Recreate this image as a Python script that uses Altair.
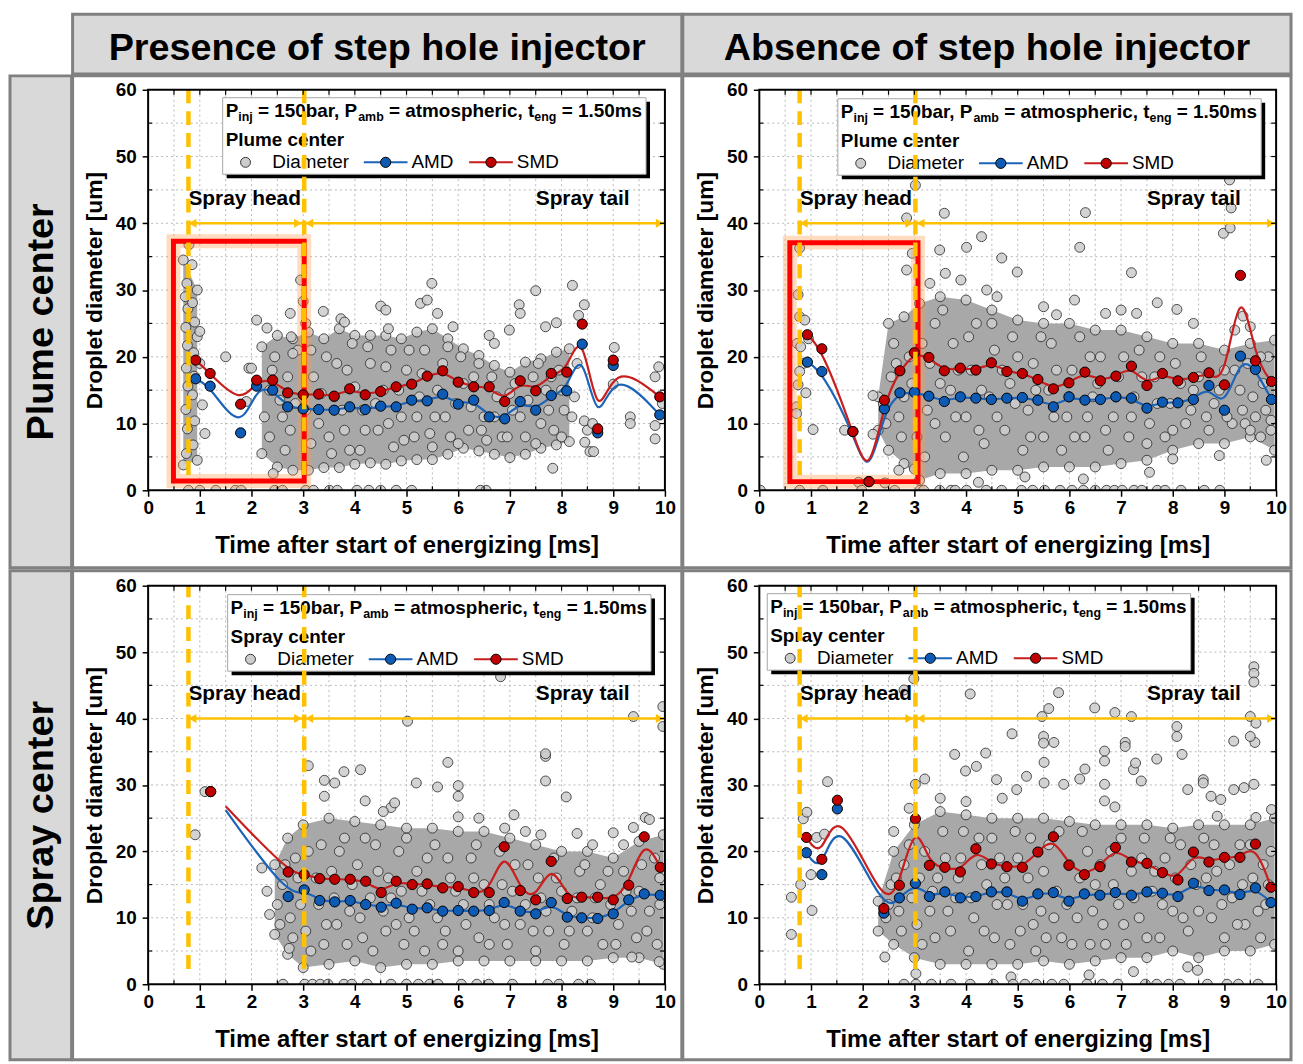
import altair as alt
import pandas as pd

# ---------------- data ----------------
x_ticks = [0, 1, 2, 3, 4, 5, 6, 7, 8, 9, 10]
y_ticks = [0, 10, 20, 30, 40, 50, 60]
x_grid = [0.5, 1, 1.5, 2, 2.5, 3, 3.5, 4, 4.5, 5, 5.5, 6, 6.5, 7, 7.5, 8, 8.5, 9, 9.5]
y_grid = [5, 10, 15, 20, 25, 30, 35, 40, 45, 50, 55]
x_half = [0.5, 1.5, 2.5, 3.5, 4.5, 5.5, 6.5, 7.5, 8.5, 9.5]
y_half = [5, 15, 25, 35, 45, 55]

phase_x = [0.78, 3.02]          # orange dashed boundaries
phase_y0 = [2.3, 2.3]
phase_y1 = [60, 60]
arrow_x0 = [0.78, 3.04]
arrow_x1 = [2.98, 9.98]
arrow_y = [40, 40]
head_left_x = [0.86, 3.12]
head_right_x = [2.90, 9.90]
phase_labels = ["Spray head", "Spray tail"]
phase_label_x = [0.78, 7.5]
phase_label_y = [42.8, 42.8]

headers = ["Presence of step hole injector", "Absence of step hole injector"]
rows = ["Plume center", "Spray center"]

# ---- Panel 1: presence / plume center ----
p1_col_x = [0.68, 0.95]
p1_col_lo = [3.8, 4.5]
p1_col_hi = [34.5, 30.0]
p1_band_x = [2.2, 2.5, 2.8, 3.1, 3.4, 3.7, 4.0, 4.3, 4.6, 4.9, 5.2, 5.5, 5.8, 6.1, 6.4, 6.7, 7.0, 7.3, 7.6, 7.9, 8.15]
p1_band_lo = [5.5, 3.5, 3.0, 3.0, 3.4, 3.4, 3.9, 4.1, 3.9, 4.4, 4.6, 4.6, 5.4, 6.3, 5.9, 5.4, 4.9, 5.4, 6.3, 6.8, 7.3]
p1_band_hi = [21.5, 23.2, 22.7, 23.7, 22.7, 24.2, 23.2, 23.2, 23.2, 22.7, 23.7, 24.2, 22.7, 21.2, 20.2, 18.7, 17.7, 19.2, 19.7, 20.7, 21.2]
p1_out = [(0.79, 36.8), (0.85, 33.8), (0.72, 29.0), (0.95, 23.0), (1.0, 23.8), (1.0, 19.0), (1.05, 12.8),
          (1.1, 8.5), (1.5, 20.0), (1.9, 13.3), (1.95, 18.3), (2.0, 18.3), (2.1, 25.5), (2.3, 24.3),
          (2.42, 2.5), (2.75, 26.5), (2.77, 23.0), (2.95, 31.5), (3.0, 28.3), (3.05, 25.0), (3.39, 26.8),
          (3.73, 25.7), (3.8, 25.2), (4.5, 27.6), (4.6, 27.0), (4.65, 24.2), (5.27, 28.0), (5.4, 28.5),
          (5.49, 31.0), (5.6, 26.5), (5.9, 24.5), (6.6, 23.2), (6.7, 22.0), (6.99, 24.0), (7.18, 27.8),
          (7.2, 26.5), (7.5, 29.9), (7.69, 24.5), (7.9, 25.1), (8.21, 30.7), (8.33, 26.2), (8.44, 27.8),
          (7.83, 3.3), (8.44, 10.4), (8.5, 9.0), (8.45, 7.2), (8.55, 5.8), (8.62, 5.8), (8.6, 10.0),
          (9.02, 21.4), (9.0, 15.9), (9.33, 11.0), (9.33, 10.0), (9.81, 9.7), (9.81, 7.7), (9.81, 17.0),
          (9.88, 18.5), (9.95, 13.0), (8.3, 19.0), (8.25, 14.0), (8.2, 11.0), (8.0, 8.0)]
p1_inner = [(0.74, 5.5), (0.76, 9.2), (0.73, 12.1), (0.77, 15.6), (0.74, 18.3), (0.76, 21.7), (0.73, 24.4),
            (0.77, 27.2), (0.75, 31.0), (0.87, 6.8), (0.9, 10.4), (0.86, 14.3), (0.89, 17.1), (0.88, 20.6),
            (0.9, 25.2), (0.86, 28.1),
            (2.35, 8), (2.35, 15), (2.45, 20), (2.6, 11), (2.65, 6), (2.7, 17), (2.85, 13), (2.9, 21),
            (3.15, 7), (3.2, 17), (3.3, 10), (3.45, 20), (3.55, 5.5), (3.6, 14), (3.8, 9), (3.85, 18),
            (3.95, 22), (4.1, 6), (4.15, 12), (4.3, 19), (4.45, 9), (4.55, 15), (4.7, 21), (4.75, 6.5),
            (4.9, 11), (5.0, 18), (5.15, 8), (5.25, 14), (5.35, 21), (5.5, 6.5), (5.55, 11), (5.7, 19),
            (5.85, 8), (5.95, 13), (6.05, 20), (6.2, 9), (6.3, 17), (6.5, 11), (6.55, 7.5), (6.75, 14),
            (6.85, 8), (7.05, 12), (7.1, 16), (7.3, 8), (7.45, 17), (7.6, 10), (7.7, 15), (7.85, 9),
            (7.95, 18), (8.05, 12),
            (2.25, 11), (2.4, 18), (2.55, 13.5), (2.75, 9), (2.8, 20.5), (3.05, 12), (3.15, 21),
            (3.35, 14.5), (3.5, 8), (3.65, 19), (3.75, 12), (3.9, 6), (4.0, 15.5), (4.2, 9), (4.25, 21.5),
            (4.4, 13), (4.6, 18.5), (4.65, 10), (4.85, 15), (4.95, 7.5), (5.05, 21), (5.2, 11), (5.3, 17.5),
            (5.45, 8.5), (5.6, 15), (5.75, 11), (5.8, 21.5), (6.0, 7), (6.1, 16), (6.25, 12.5), (6.4, 19),
            (6.45, 9), (6.65, 17), (6.7, 11), (6.95, 8), (7.0, 14.5), (7.2, 11), (7.35, 13.5), (7.5, 7),
            (7.55, 19), (7.75, 12), (7.8, 17), (8.0, 15)]
p1_zero = [0.78, 1.0, 1.31, 1.69, 1.8, 2.45, 2.6, 3.05, 3.2, 3.51, 3.66, 4.04, 4.27, 4.5, 4.8, 5.1, 6.43, 6.54]
p1_mx = [0.92, 1.2, 1.79, 2.1, 2.41, 2.7, 3.0, 3.3, 3.6, 3.9, 4.2, 4.5, 4.8, 5.1, 5.4, 5.7, 6.0, 6.3, 6.6, 6.9,
         7.2, 7.5, 7.8, 8.1, 8.4, 8.7, 9.0, 9.9]
p1_smd = [19.5, 17.5, 12.9, 16.5, 16.5, 14.6, 14.3, 14.4, 14.1, 15.2, 14.3, 14.8, 15.5, 15.9, 17.1, 17.9, 16.2,
          15.5, 15.5, 13.3, 16.4, 14.9, 17.5, 17.7, 24.9, 9.2, 19.5, 14.0]
p1_amd = [16.7, 15.6, 8.6, 15.6, 15.0, 12.5, 12.2, 12.1, 12.0, 12.5, 12.1, 12.6, 12.5, 13.5, 13.4, 14.4, 12.9,
          13.5, 11.0, 10.7, 13.3, 12.0, 14.2, 14.9, 21.9, 8.6, 18.7, 11.3]
p1_box = [0.49, 3.02, 1.4, 37.3]

# ---- Panel 2: absence / plume center ----
p2_band_x = [2.3, 2.5, 2.8, 3.1, 3.5, 4.0, 4.5, 5.0, 5.5, 6.0, 6.5, 7.0, 7.5, 8.0, 8.5, 9.0, 9.5, 9.97]
p2_band_lo = [9.0, 6.0, 4.0, 1.5, 2.5, 2.5, 3.0, 3.0, 3.5, 3.5, 3.5, 4.0, 4.5, 6.0, 7.0, 7.0, 8.0, 6.0]
p2_band_hi = [14.0, 25.0, 26.0, 28.0, 29.0, 28.5, 27.0, 25.5, 25.0, 25.0, 24.0, 24.0, 23.0, 22.0, 22.0, 21.0, 22.0, 22.5]
p2_out = [(0.75, 29.3), (0.78, 26.0), (0.88, 25.5), (0.73, 22.0), (0.8, 21.5), (0.85, 19.0), (0.78, 17.8),
          (0.75, 15.8), (0.9, 14.6), (0.72, 12.5), (0.72, 11.5), (0.78, 36.3), (1.04, 9.1), (0.95, 22.7),
          (1.65, 9.0), (1.92, 1.2), (2.43, 1.1), (2.2, 8.4), (2.2, 14.2), (2.7, 3.0), (3.0, 3.2), (2.85, 40.8),
          (2.96, 35.5), (2.85, 33.0), (3.02, 45.7), (3.58, 41.5), (3.49, 36.0), (4.3, 38.0), (4.01, 36.4),
          (4.69, 34.8), (4.99, 32.7), (6.31, 41.6), (6.2, 36.4), (7.2, 32.6), (8.98, 38.5), (9.1, 46.5),
          (9.13, 42.3), (9.11, 39.3), (9.36, 26.1), (7.7, 28.1), (8.08, 27.1), (5.75, 26.3), (7.55, 2.7),
          (8.0, 4.7), (8.9, 5.2), (9.81, 4.5), (6.27, 1.7), (4.24, 1.2), (5.14, 2.0), (3.3, 31.0), (3.6, 32.5),
          (3.9, 31.5), (4.4, 30.0), (4.6, 29.0), (5.5, 27.5), (6.1, 28.5), (6.7, 26.5), (7.0, 27.0),
          (7.3, 26.5), (8.4, 25.0), (9.4, 10.0), (9.5, 9.0), (9.7, 8.0), (9.9, 10.5), (9.2, 24.0), (9.5, 24.5)]
p2_inner = [(2.45, 10), (2.55, 17), (2.6, 22), (2.75, 8), (2.8, 14), (2.9, 20), (3.2, 5), (3.25, 12),
            (3.3, 19), (3.4, 25), (3.6, 8), (3.7, 15), (3.75, 22), (3.95, 5), (4.0, 11), (4.1, 18), (4.2, 25),
            (4.35, 7), (4.45, 14), (4.55, 21), (4.75, 9), (4.85, 16), (4.9, 23), (5.1, 6), (5.2, 12),
            (5.3, 19), (5.5, 8), (5.6, 15), (5.65, 22), (5.85, 6), (5.95, 11), (6.05, 18), (6.2, 23),
            (6.3, 8), (6.45, 14), (6.6, 20), (6.75, 6), (6.85, 11), (6.95, 17), (7.15, 8), (7.25, 14),
            (7.35, 21), (7.55, 10), (7.65, 17), (7.85, 8), (7.95, 13), (8.05, 19), (8.25, 10), (8.4, 15),
            (8.55, 20), (8.7, 9), (8.8, 13), (9.0, 18), (9.15, 10), (9.3, 15), (9.45, 19), (9.6, 11),
            (9.75, 16), (9.85, 20), (9.9, 9),
            (2.4, 13), (2.65, 19), (2.7, 11), (2.95, 16), (3.05, 8), (3.15, 22), (3.4, 10), (3.5, 16),
            (3.55, 27), (3.8, 11), (3.85, 18), (4.05, 23), (4.25, 9), (4.3, 15), (4.5, 25), (4.6, 11),
            (4.7, 18), (4.95, 13), (5.0, 20), (5.25, 8), (5.35, 15), (5.45, 23), (5.7, 11), (5.75, 18),
            (6.0, 14), (6.1, 8), (6.35, 11), (6.4, 20), (6.55, 16), (6.7, 9), (6.9, 14), (7.05, 20),
            (7.2, 11), (7.4, 17), (7.5, 7), (7.7, 13), (7.75, 20), (8.0, 9), (8.15, 16), (8.35, 12),
            (8.5, 17), (8.65, 11), (8.9, 15), (9.05, 11), (9.2, 18), (9.35, 12), (9.55, 14), (9.7, 20),
            (9.8, 12)]
p2_zero = [0.02, 0.78, 1.23, 1.98, 2.62, 3.11, 3.18, 3.49, 3.71, 3.79, 4.01, 4.39, 4.69, 5.07, 5.29, 5.52, 5.82,
           6.05, 6.27, 6.5, 6.72, 6.87, 7.02, 7.25, 7.4, 7.7, 7.85, 8.16, 8.61, 8.91]
p2_mx = [0.93, 1.21, 1.81, 2.12, 2.42, 2.72, 3.0, 3.28, 3.58, 3.89, 4.19, 4.49, 4.79, 5.09, 5.39, 5.69, 5.99, 6.3,
         6.6, 6.9, 7.2, 7.5, 7.8, 8.1, 8.4, 8.7, 9.0, 9.31, 9.6, 9.91]
p2_smd = [23.3, 21.2, 8.8, 1.3, 13.5, 17.9, 20.6, 19.9, 17.9, 18.3, 18.0, 19.1, 17.8, 17.5, 16.6, 15.2, 16.1, 17.7,
          16.4, 17.1, 18.6, 15.7, 17.5, 16.4, 16.9, 17.6, 15.8, 32.2, 19.4, 16.3]
p2_amd = [19.2, 17.8, 8.8, 1.3, 12.2, 14.6, 14.7, 14.1, 13.3, 14.0, 13.8, 13.6, 13.8, 13.9, 13.5, 12.5, 14.0, 13.5,
          13.6, 14.0, 13.8, 12.3, 13.2, 13.1, 13.6, 15.7, 12.0, 20.1, 18.1, 13.6]
p2_box = [0.59, 3.07, 1.3, 37.1]

# ---- Panel 3: presence / spray center ----
p3_band_x = [2.45, 2.7, 3.0, 3.5, 4.0, 4.5, 5.0, 5.5, 6.0, 6.5, 7.0, 7.5, 8.0, 8.5, 9.0, 9.5, 9.97]
p3_band_lo = [7.5, 4.5, 2.5, 3.0, 3.5, 2.5, 3.0, 3.0, 3.5, 3.5, 3.5, 3.5, 3.5, 3.5, 4.0, 4.0, 3.0]
p3_band_hi = [18.0, 22.0, 24.0, 25.0, 24.5, 24.0, 23.5, 23.5, 23.0, 23.0, 22.0, 21.0, 20.0, 20.0, 19.0, 21.5, 22.5]
p3_out = [(0.91, 22.5), (1.1, 29.0), (3.1, 32.9), (3.41, 30.7), (3.61, 30.3), (3.79, 32.0), (4.11, 32.3),
          (4.2, 27.6), (3.41, 28.3), (4.7, 26.6), (4.77, 27.3), (5.02, 39.6), (5.19, 30.3), (5.6, 29.7),
          (5.8, 33.4), (6.0, 29.9), (6.0, 28.3), (6.0, 25.2), (6.82, 46.3), (7.08, 25.5), (7.69, 34.3),
          (7.69, 34.7), (7.69, 30.6), (8.09, 28.2), (8.3, 22.7), (9.0, 22.8), (9.39, 40.3), (9.96, 41.8),
          (9.96, 38.8), (9.62, 25.1), (9.7, 24.8), (9.39, 23.6), (9.36, 4.1), (9.89, 3.4), (2.73, 5.4),
          (2.2, 17.5), (2.3, 14.0), (2.35, 10.5), (4.55, 26.0), (6.4, 25.0), (6.9, 23.5), (7.3, 23.0),
          (7.6, 22.5), (8.6, 21.0), (9.2, 21.0)]
p3_inner = [(2.55, 9), (2.6, 15), (2.8, 7), (2.85, 19), (2.95, 12), (3.15, 5), (3.25, 16), (3.35, 21),
            (3.45, 9), (3.6, 13), (3.7, 20), (3.85, 6), (3.95, 15), (4.1, 10), (4.2, 22), (4.35, 5),
            (4.45, 17), (4.6, 8), (4.7, 13), (4.85, 20), (4.95, 6), (5.05, 10), (5.2, 17), (5.35, 5),
            (5.45, 12), (5.55, 21), (5.75, 8), (5.85, 16), (6.0, 5), (6.1, 12), (6.25, 19), (6.4, 7),
            (6.5, 15), (6.7, 10), (6.8, 20), (6.95, 6), (7.05, 14), (7.2, 9), (7.35, 18), (7.5, 5),
            (7.6, 13), (7.75, 8), (7.9, 16), (8.05, 6), (8.2, 11), (8.35, 17), (8.5, 8), (8.65, 13),
            (8.8, 6), (8.9, 17), (9.1, 9), (9.25, 14), (9.45, 7), (9.55, 18), (9.7, 11), (9.85, 6),
            (9.9, 16),
            (2.5, 12), (2.65, 18), (2.75, 10), (2.9, 16), (3.05, 8), (3.1, 20), (3.3, 12), (3.4, 6),
            (3.55, 17), (3.65, 9), (3.8, 22), (3.9, 11), (4.05, 18), (4.15, 7), (4.3, 13), (4.4, 21),
            (4.55, 11), (4.65, 16), (4.8, 9), (4.9, 14), (5.0, 22), (5.15, 8), (5.3, 14), (5.4, 19),
            (5.6, 10), (5.7, 6), (5.8, 19), (5.95, 14), (6.15, 9), (6.3, 16), (6.35, 21), (6.6, 12),
            (6.6, 6), (6.85, 15), (6.9, 9), (7.1, 18), (7.3, 12), (7.45, 8), (7.55, 16), (7.7, 11),
            (7.85, 19), (8.0, 14), (8.15, 8), (8.3, 13), (8.45, 18), (8.6, 10), (8.75, 15), (8.95, 12),
            (9.05, 6), (9.2, 17), (9.35, 11), (9.5, 14), (9.65, 8), (9.8, 19), (9.9, 12)]
p3_zero = [2.61, 3.03, 3.18, 3.33, 3.48, 3.79, 3.94, 4.24, 4.7, 5.0, 5.23, 5.45, 5.61, 6.06, 6.36, 6.59, 7.05,
           7.73, 7.95, 8.33, 8.56]
p3_mx = [1.21, 2.71, 3.02, 3.32, 3.61, 3.91, 4.21, 4.51, 4.8, 5.11, 5.4, 5.7, 6.0, 6.3, 6.6, 6.89, 7.2, 7.5, 7.8,
         8.11, 8.39, 8.7, 9.0, 9.3, 9.6, 9.91]
p3_smd = [29.0, 16.9, 16.5, 15.9, 15.8, 15.8, 15.5, 13.8, 15.5, 15.0, 15.1, 14.5, 14.7, 13.8, 13.8, 20.7, 14.1,
          12.7, 18.5, 12.9, 13.1, 13.1, 12.7, 14.9, 22.2, 17.6]
p3_amd = [29.0, 13.2, 14.2, 12.6, 12.4, 12.6, 12.0, 11.6, 12.2, 11.3, 11.5, 11.0, 11.1, 11.0, 11.1, 12.3, 11.0,
          10.6, 12.3, 10.1, 10.0, 9.9, 10.6, 12.7, 13.6, 13.4]
p3_line_x = [1.5, 2.71, 3.02, 3.32, 3.61, 3.91, 4.21, 4.51, 4.8, 5.11, 5.4, 5.7, 6.0, 6.3, 6.6, 6.89, 7.2, 7.5,
             7.8, 8.11, 8.39, 8.7, 9.0, 9.3, 9.6, 9.91]
p3_line_smd = [26.8, 16.9, 16.5, 15.9, 15.8, 15.8, 15.5, 13.8, 15.5, 15.0, 15.1, 14.5, 14.7, 13.8, 13.8, 20.7,
               14.1, 12.7, 18.5, 12.9, 13.1, 13.1, 12.7, 14.9, 22.2, 17.6]
p3_line_amd = [26.2, 13.2, 14.2, 12.6, 12.4, 12.6, 12.0, 11.6, 12.2, 11.3, 11.5, 11.0, 11.1, 11.0, 11.1, 12.3,
               11.0, 10.6, 12.3, 10.1, 10.0, 9.9, 10.6, 12.7, 13.6, 13.4]

# ---- Panel 4: absence / spray center ----
p4_band_x = [2.3, 2.6, 3.0, 3.5, 4.0, 4.5, 5.0, 5.5, 6.0, 6.5, 7.0, 7.5, 8.0, 8.5, 9.0, 9.5, 9.97]
p4_band_lo = [8.0, 6.0, 4.0, 3.0, 3.0, 3.0, 3.0, 3.5, 3.0, 3.5, 4.0, 4.0, 5.0, 4.0, 5.0, 5.0, 6.0]
p4_band_hi = [12.5, 20.0, 24.0, 26.0, 25.5, 25.0, 25.0, 25.0, 24.5, 24.0, 24.0, 24.0, 23.5, 24.0, 24.0, 24.0, 25.0]
p4_out = [(0.62, 13.1), (0.62, 7.5), (0.85, 24.9), (0.92, 25.9), (0.8, 15.0), (1.02, 11.1), (1.0, 16.5),
          (1.11, 22.1), (1.32, 30.5), (1.26, 22.6), (2.8, 44.3), (2.99, 46.0), (3.2, 30.9), (3.02, 30.1),
          (3.78, 34.6), (3.99, 32.1), (4.08, 43.7), (4.2, 32.8), (4.38, 34.8), (4.59, 30.8), (4.89, 37.7),
          (5.17, 31.3), (4.98, 29.3), (5.47, 40.3), (5.5, 37.3), (5.5, 36.3), (5.51, 33.4), (5.51, 30.3),
          (5.6, 41.5), (5.7, 36.4), (5.79, 43.9), (5.89, 30.1), (6.2, 30.9), (6.3, 32.4), (6.49, 41.6),
          (6.68, 35.1), (6.68, 33.6), (6.68, 30.1), (6.68, 27.6), (6.88, 40.9), (6.88, 26.7), (7.08, 36.4),
          (7.08, 35.8), (7.2, 40.3), (7.24, 32.3), (7.28, 33.3), (7.39, 30.6), (7.69, 33.9), (8.08, 38.8),
          (8.08, 37.3), (8.18, 34.6), (8.29, 29.3), (8.59, 30.8), (8.59, 30.3), (8.74, 28.3), (8.86, 25.3),
          (8.93, 27.8), (9.18, 36.6), (9.18, 29.3), (9.38, 29.6), (9.57, 47.8), (9.57, 46.8), (9.57, 45.5),
          (9.5, 40.3), (9.61, 39.3), (9.59, 36.4), (9.5, 37.3), (9.57, 30.1), (9.61, 25.1), (9.91, 26.3),
          (8.29, 2.6), (8.48, 2.1), (7.24, 1.9), (6.38, 1.4), (4.87, 1.1), (3.03, 1.6), (2.43, 4.1),
          (2.6, 23.0), (2.9, 26.5), (3.5, 28.0), (4.0, 27.5), (4.7, 28.0)]
p4_inner = [(2.45, 10), (2.55, 15), (2.75, 8), (2.8, 18), (2.95, 13), (3.15, 6), (3.2, 20), (3.3, 11),
            (3.45, 16), (3.55, 23), (3.7, 8), (3.8, 13), (3.9, 19), (4.05, 5), (4.15, 10), (4.25, 22),
            (4.4, 15), (4.55, 7), (4.65, 19), (4.8, 12), (4.95, 23), (5.05, 8), (5.2, 16), (5.35, 5),
            (5.45, 11), (5.6, 21), (5.75, 14), (5.85, 7), (6.0, 18), (6.15, 10), (6.25, 23), (6.4, 6),
            (6.5, 15), (6.65, 9), (6.8, 20), (6.95, 12), (7.1, 6), (7.2, 17), (7.35, 10), (7.45, 22),
            (7.6, 14), (7.75, 7), (7.85, 19), (8.0, 11), (8.15, 21), (8.3, 8), (8.45, 15), (8.6, 22),
            (8.75, 10), (8.85, 17), (9.0, 7), (9.15, 13), (9.3, 21), (9.4, 9), (9.55, 16), (9.7, 7),
            (9.8, 12), (9.9, 20),
            (2.5, 12), (2.65, 16), (2.7, 11), (2.9, 21), (3.05, 9), (3.1, 16), (3.35, 14), (3.4, 7),
            (3.6, 19), (3.65, 11), (3.85, 16), (3.95, 23), (4.1, 13), (4.3, 18), (4.35, 8), (4.5, 22),
            (4.6, 12), (4.75, 16), (4.85, 6), (5.0, 19), (5.1, 12), (5.25, 22), (5.3, 9), (5.5, 17),
            (5.55, 7), (5.7, 10), (5.8, 23), (5.95, 12), (6.05, 6), (6.2, 16), (6.35, 20), (6.45, 11),
            (6.6, 18), (6.7, 6), (6.85, 15), (7.0, 22), (7.05, 9), (7.25, 13), (7.4, 19), (7.5, 7),
            (7.65, 17), (7.8, 12), (7.95, 22), (8.05, 16), (8.2, 10), (8.35, 18), (8.5, 11), (8.65, 16),
            (8.8, 21), (8.95, 12), (9.1, 18), (9.25, 9), (9.35, 15), (9.5, 21), (9.65, 11), (9.75, 18),
            (9.85, 15)]
p4_zero = [2.8, 3.03, 3.33, 3.71, 4.08, 4.53, 4.91, 5.14, 5.36, 5.66, 5.89, 6.34, 6.64, 6.94, 7.47, 7.69, 7.92,
           8.14, 8.67, 9.05, 9.27, 9.65]
p4_mx = [0.91, 1.21, 1.51, 2.41, 2.71, 3.02, 3.29, 3.59, 3.89, 4.19, 4.49, 4.79, 5.09, 5.39, 5.69, 5.99, 6.29,
         6.59, 6.89, 7.2, 7.5, 7.8, 8.1, 8.4, 8.7, 9.0, 9.3, 9.6, 9.9]
p4_smd = [22.1, 18.8, 27.7, 11.4, 14.9, 24.9, 17.9, 17.6, 16.9, 20.4, 18.1, 17.7, 17.6, 19.9, 22.2, 17.9, 16.5,
          17.7, 20.6, 18.4, 18.2, 16.8, 15.7, 19.9, 18.4, 19.1, 19.1, 21.1, 14.6]
p4_amd = [19.8, 16.5, 26.4, 10.7, 13.0, 15.2, 13.2, 13.9, 13.0, 13.2, 13.9, 13.9, 12.5, 13.6, 13.8, 12.5, 13.6,
          13.4, 13.8, 13.4, 13.9, 13.7, 13.2, 15.2, 14.1, 14.2, 13.5, 14.5, 12.3]

# ---------------- styles ----------------
FONT = "Liberation Sans"
ORANGE = "#ffc000"
BLUE_LINE = "#1c64b8"
BLUE_PT = "#0d5bb5"
RED_LINE = "#c81e1e"
RED_PT = "#c00000"
GRID_C = "#b8b8b8"
CELL_C = "#808080"
HEAD_FILL = "#d9d9d9"
DOT_FILL = "#cdcdcd"
DOT_EDGE = "#333333"
BAND_C = "#a8a8a8"
DOT_SIZE = 100
W = 520

XS = alt.Scale(domain=[0, 10], nice=False, zero=False)
YS = alt.Scale(domain=[0, 60], nice=False, zero=False)
X_AXIS = alt.Axis(values=x_ticks, title="Time after start of energizing [ms]", titleFont=FONT,
                  titleFontSize=24, titleFontWeight="bold", titleColor="black", titleY=63,
                  titleBaseline="alphabetic", labelFont=FONT, labelFontSize=19, labelFontWeight="bold",
                  labelColor="black", labelPadding=2, tickSize=6, tickColor="black", tickWidth=1.5,
                  domain=False, grid=False, zindex=1, labelFlush=False, labelOverlap=False)
Y_AXIS = alt.Axis(values=y_ticks, title="Droplet diameter [um]", titleFont=FONT, titleFontSize=23,
                  titleFontWeight="bold", titleColor="black", titleX=-47, titleBaseline="alphabetic",
                  labelFont=FONT, labelFontSize=19, labelFontWeight="bold", labelColor="black",
                  labelPadding=6, tickSize=6, tickColor="black", tickWidth=1.5, domain=False, grid=False,
                  zindex=1, labelFlush=False, labelOverlap=False)


def X(f):
    return alt.X(f, type="quantitative", scale=XS, axis=X_AXIS)


def Y(f):
    return alt.Y(f, type="quantitative", scale=YS, axis=Y_AXIS)


ONE = pd.DataFrame({"k": [0]})


def px_rect(x0, x1, y0, y1, **kw):
    return alt.Chart(ONE).mark_rect(**kw).encode(
        x=alt.value(x0), x2=alt.value(x1), y=alt.value(y0), y2=alt.value(y1))


def px_text(txt, x, y, size, bold=True, align="left", angle=0):
    kw = dict(text=txt, font=FONT, fontSize=size, fontWeight="bold" if bold else "normal",
              align=align, baseline="alphabetic", color="black")
    if angle:
        kw["angle"] = angle
    return alt.Chart(ONE).mark_text(**kw).encode(x=alt.value(x), y=alt.value(y))


def px_dot(x, y, size, fill, edge="black", op=1.0):
    return alt.Chart(ONE).mark_circle(size=size, fill=fill, stroke=edge, strokeWidth=1, opacity=op).encode(
        x=alt.value(x), y=alt.value(y))


def px_hline(x0, x1, y, color):
    return alt.Chart(ONE).mark_rule(color=color, strokeWidth=2).encode(
        x=alt.value(x0), x2=alt.value(x1), y=alt.value(y))


def legend_layers(lx, ly, loc):
    L = [px_rect(lx + 4, lx + 430, ly + 4, ly + 81, fill="black"),
         px_rect(lx, lx + 426, ly, ly + 77, fill="white", stroke="#a6a6a6", strokeWidth=1)]
    main = 19
    sub = 12.5
    pieces = [("P", 3, 0, main), ("inj", 15.7, 4, sub), ("= 150bar, P", 35.5, 0, main),
              ("amb", 136.4, 4, sub), ("= atmospheric, t", 167.4, 0, main), ("eng", 313.6, 4, sub),
              ("= 1.50ms", 341.1, 0, main)]
    for t, dx, dy, s in pieces:
        L.append(px_text(t, lx + dx, ly + 19 + dy, s))
    L.append(px_text(loc, lx + 3, ly + 49, 19))
    L.append(px_dot(lx + 23, ly + 65, DOT_SIZE, DOT_FILL, DOT_EDGE))
    L.append(px_text("Diameter", lx + 50, ly + 71, 19, bold=False))
    L.append(px_hline(lx + 142, lx + 186, ly + 65, BLUE_LINE))
    L.append(px_dot(lx + 164, ly + 65, 105, BLUE_PT))
    L.append(px_text("AMD", lx + 190, ly + 71, 19, bold=False))
    L.append(px_hline(lx + 248, lx + 292, ly + 65, RED_LINE))
    L.append(px_dot(lx + 270, ly + 65, 105, RED_PT))
    L.append(px_text("SMD", lx + 296, ly + 71, 19, bold=False))
    return L


def make_panel(p):
    H = p["h"]
    L = []
    if "header" in p:
        hx0, hx1, hy0, hy1 = p["header_box"]
        L.append(px_rect(hx0, hx1, hy0, hy1, fill=HEAD_FILL, stroke=CELL_C, strokeWidth=3))
        L.append(px_text(p["header"], (hx0 + hx1) / 2, hy1 - 14, 38, align="center"))
    if "row" in p:
        rx0, rx1, ry0, ry1 = p["row_box"]
        L.append(px_rect(rx0, rx1, ry0, ry1, fill=HEAD_FILL, stroke=CELL_C, strokeWidth=3))
        L.append(px_text(p["row"], rx0 + 43, (ry0 + ry1) / 2, 38, align="center", angle=270))
    cx0, cx1, cy0, cy1 = p["cell"]
    L.append(px_rect(cx0, cx1, cy0, cy1, filled=False, stroke=CELL_C, strokeWidth=3))

    # grid
    L.append(alt.Chart(pd.DataFrame({"x": x_grid})).mark_rule(
        color=GRID_C, strokeDash=[2, 3], strokeWidth=1).encode(x=X("x")))
    L.append(alt.Chart(pd.DataFrame({"y": y_grid})).mark_rule(
        color=GRID_C, strokeDash=[2, 3], strokeWidth=1).encode(y=Y("y")))

    # dense cloud of droplets
    bx, blo, bhi, bseg = [], [], [], []
    for si, (xs, los, his) in enumerate(p["bands"]):
        bx += xs
        blo += los
        bhi += his
        bseg += [si] * len(xs)
    band = pd.DataFrame({"x": bx, "lo": blo, "hi": bhi, "seg": bseg})
    L.append(alt.Chart(band).mark_area(color=BAND_C, clip=True).encode(
        x=X("x"), y=Y("lo"), y2=alt.Y2("hi"), detail="seg:N"))

    pts = p["inner"] + p["out"]
    sx = bx + bx + [o[0] for o in pts] + p["zero"]
    sy = blo + bhi + [o[1] for o in pts] + [0.0] * len(p["zero"])
    dots = pd.DataFrame({"x": sx, "y": sy})
    L.append(alt.Chart(dots).mark_circle(size=DOT_SIZE, fill=DOT_FILL, stroke=DOT_EDGE, strokeWidth=1,
                                         opacity=0.88, clip=True).encode(x=X("x"), y=Y("y")))

    # highlighted spray-head box
    if "box" in p:
        b = p["box"]
        bdf = pd.DataFrame({"x0": [b[0]], "x1": [b[1]], "y0": [b[2]], "y1": [b[3]]})
        L.append(alt.Chart(bdf).mark_rect(filled=False, stroke="#ff9a4a", strokeWidth=14,
                                          strokeOpacity=0.35).encode(
            x=X("x0"), x2=alt.X2("x1"), y=Y("y0"), y2=alt.Y2("y1")))
        L.append(alt.Chart(bdf).mark_rect(filled=False, stroke="#ff0000", strokeWidth=5).encode(
            x=X("x0"), x2=alt.X2("x1"), y=Y("y0"), y2=alt.Y2("y1")))

    # AMD / SMD curves and markers
    ldf = pd.DataFrame({"x": p["line_x"], "amd": p["line_amd"], "smd": p["line_smd"]})
    mdf = pd.DataFrame({"x": p["mx"], "amd": p["amd"], "smd": p["smd"]})
    L.append(alt.Chart(ldf).mark_line(interpolate="basis", color=BLUE_LINE, strokeWidth=2.2).encode(
        x=X("x"), y=Y("amd")))
    L.append(alt.Chart(ldf).mark_line(interpolate="basis", color=RED_LINE, strokeWidth=2.2).encode(
        x=X("x"), y=Y("smd")))
    L.append(alt.Chart(mdf).mark_circle(size=105, fill=BLUE_PT, stroke="black", strokeWidth=1,
                                        opacity=1).encode(x=X("x"), y=Y("amd")))
    L.append(alt.Chart(mdf).mark_circle(size=105, fill=RED_PT, stroke="black", strokeWidth=1,
                                        opacity=1).encode(x=X("x"), y=Y("smd")))

    # legend box
    L += legend_layers(p["leg"][0], p["leg"][1], p["loc"])

    # spray head / tail annotation
    L.append(alt.Chart(pd.DataFrame({"label": phase_labels, "x": phase_label_x, "y": phase_label_y}))
             .mark_text(font=FONT, fontSize=21, fontWeight="bold", align="left", baseline="alphabetic",
                        color="black")
             .encode(x=X("x"), y=Y("y"), text="label:N"))
    L.append(alt.Chart(pd.DataFrame({"x": phase_x, "y0": phase_y0, "y1": phase_y1})).mark_rule(
        color=ORANGE, strokeWidth=4.5, strokeDash=[14, 8]).encode(x=X("x"), y=Y("y0"), y2=alt.Y2("y1")))
    L.append(alt.Chart(pd.DataFrame({"x0": arrow_x0, "x1": arrow_x1, "y": arrow_y})).mark_rule(
        color=ORANGE, strokeWidth=2.5).encode(x=X("x0"), x2=alt.X2("x1"), y=Y("y")))
    L.append(alt.Chart(pd.DataFrame({"x": head_left_x, "y": arrow_y})).mark_point(
        shape="triangle-left", filled=True, size=80, color=ORANGE, opacity=1).encode(x=X("x"), y=Y("y")))
    L.append(alt.Chart(pd.DataFrame({"x": head_right_x, "y": arrow_y})).mark_point(
        shape="triangle-right", filled=True, size=80, color=ORANGE, opacity=1).encode(x=X("x"), y=Y("y")))

    # inner ticks and frame
    L.append(alt.Chart(pd.DataFrame({"x": x_grid})).mark_rule(color="black", strokeWidth=1.2).encode(
        x=X("x"), y=alt.value(0), y2=alt.value(5)))
    L.append(alt.Chart(pd.DataFrame({"x": x_half})).mark_rule(color="black", strokeWidth=1.2).encode(
        x=X("x"), y=alt.value(H - 4), y2=alt.value(H)))
    L.append(alt.Chart(pd.DataFrame({"y": y_grid})).mark_rule(color="black", strokeWidth=1.2).encode(
        y=Y("y"), x=alt.value(W - 5), x2=alt.value(W)))
    L.append(alt.Chart(pd.DataFrame({"y": y_half})).mark_rule(color="black", strokeWidth=1.2).encode(
        y=Y("y"), x=alt.value(0), x2=alt.value(4)))
    L.append(px_rect(0, W, 0, H, filled=False, stroke="black", strokeWidth=2))
    return alt.layer(*L).properties(width=W, height=H)


P1 = dict(h=403, header=headers[0], header_box=(-76, 537, -76, -16), row=rows[0],
          row_box=(-139, -77, -14, 481), cell=(-76, 537, -14, 481),
          bands=[(p1_col_x, p1_col_lo, p1_col_hi), (p1_band_x, p1_band_lo, p1_band_hi)],
          inner=p1_inner, out=p1_out, zero=p1_zero, mx=p1_mx, amd=p1_amd, smd=p1_smd,
          line_x=p1_mx, line_amd=p1_amd, line_smd=p1_smd, box=p1_box, leg=(75, 8), loc="Plume center")
P2 = dict(h=403, header=headers[1], header_box=(-77, 535, -76, -16), cell=(-77, 535, -14, 481),
          bands=[(p2_band_x, p2_band_lo, p2_band_hi)],
          inner=p2_inner, out=p2_out, zero=p2_zero, mx=p2_mx, amd=p2_amd, smd=p2_smd,
          line_x=p2_mx, line_amd=p2_amd, line_smd=p2_smd, box=p2_box, leg=(79, 9), loc="Plume center")
P3 = dict(h=401, row=rows[1], row_box=(-139, -77, -15, 477), cell=(-76, 537, -15, 477),
          bands=[(p3_band_x, p3_band_lo, p3_band_hi)],
          inner=p3_inner, out=p3_out, zero=p3_zero, mx=p3_mx, amd=p3_amd, smd=p3_smd,
          line_x=p3_line_x, line_amd=p3_line_amd, line_smd=p3_line_smd, leg=(80, 9), loc="Spray center")
P4 = dict(h=401, cell=(-77, 535, -15, 477),
          bands=[(p4_band_x, p4_band_lo, p4_band_hi)],
          inner=p4_inner, out=p4_out, zero=p4_zero, mx=p4_mx, amd=p4_amd, smd=p4_smd,
          line_x=p4_mx, line_amd=p4_amd, line_smd=p4_smd, leg=(8, 8), loc="Spray center")

chart = alt.concat(make_panel(P1), make_panel(P2), make_panel(P3), make_panel(P4),
                   columns=2, spacing={"row": 96, "column": 95}, bounds="flush").properties(
    padding={"left": 0, "top": 1, "right": 2, "bottom": 2}, background="white"
).configure_view(strokeWidth=0)

chart.save("out.html", embed_options={"renderer": "svg", "actions": False})
